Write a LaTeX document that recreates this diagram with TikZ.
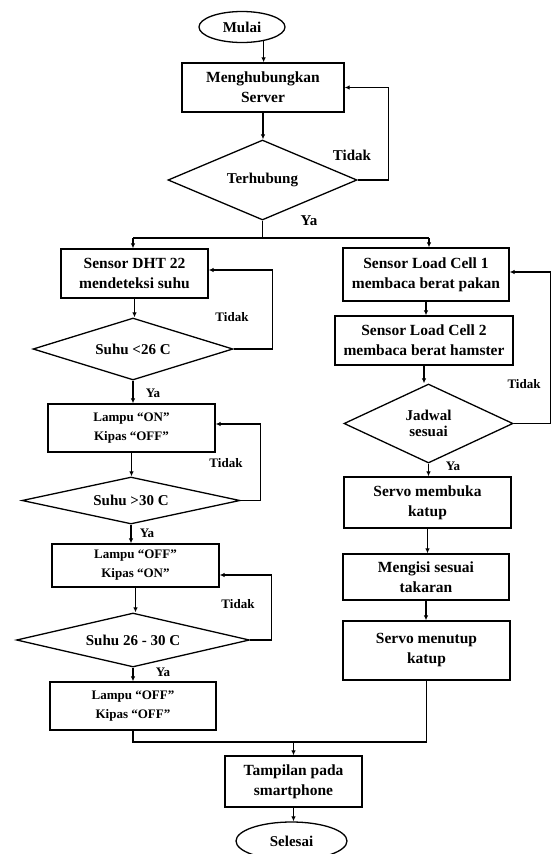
\documentclass[tikz,border=0pt]{standalone}
\usepackage{fontspec}
\setmainfont{Liberation Serif}
\usetikzlibrary{shapes.geometric,arrows.meta}
\tikzset{
  base/.style={draw, line width=1.3pt, inner sep=0pt, align=center, text=black},
  procbox/.style={base, rectangle, font=\fontsize{15.5}{20}\selectfont\bfseries},
  smallbox/.style={base, rectangle, font=\fontsize{13}{19}\selectfont\bfseries},
  decision/.style={base, diamond, aspect=3, font=\fontsize{15}{16}\selectfont\bfseries},
  terminal/.style={base, ellipse, font=\fontsize{15}{17}\selectfont\bfseries},
  lbl/.style={inner sep=0pt, font=\fontsize{15}{17}\selectfont\bfseries},
  slbl/.style={inner sep=0pt, font=\fontsize{13}{15}\selectfont\bfseries},
  conn/.style={line width=1.3pt},
  arr/.style={line width=1.3pt, -{Latex[length=5pt,width=4.5pt]}},
}
\begin{document}
\begin{tikzpicture}[x=1pt,y=-1pt]
\useasboundingbox[fill=white] (0,0) rectangle (551,854);
\clip (0,0) rectangle (551,854);
% top part
\node[terminal, minimum width=86pt, minimum height=31pt] (mulai) at (242,27) {Mulai};
\node[procbox, minimum width=162pt, minimum height=49pt] (server) at (263,87.5) {Menghubungkan\\Server};
\node[decision, minimum width=189pt, minimum height=80pt] (terhub) at (262.5,180) {Terhubung};
\node[lbl] (tidak0) at (352,155) {Tidak};
\node[lbl] (ya0) at (309,221) {Ya};
\coordinate (jl) at (133,238);
\coordinate (jr) at (429,238);
% left branch
\node[procbox, minimum width=147pt, minimum height=49pt] (dht) at (134.5,273.5) {Sensor DHT 22\\mendeteksi suhu};
\node[decision, minimum width=200pt, minimum height=62pt] (suhu1) at (133,349) {Suhu <26 C};
\node[smallbox, minimum width=167pt, minimum height=48pt] (lamp1) at (131.5,428) {Lampu “ON”\\Kipas “OFF”};
\node[decision, minimum width=218pt, minimum height=47pt] (suhu2) at (131,500.5) {Suhu >30 C};
\node[smallbox, minimum width=167pt, minimum height=43pt] (lamp2) at (135.5,565.5) {Lampu “OFF”\\Kipas “ON”};
\node[decision, minimum width=233pt, minimum height=54pt] (suhu3) at (133,640) {Suhu 26 - 30 C};
\node[smallbox, minimum width=166pt, minimum height=48pt] (lamp3) at (133,706) {Lampu “OFF”\\Kipas “OFF”};
\node[slbl] (tidak1) at (232,317) {Tidak};
\node[slbl] (ya1) at (153,393) {Ya};
\node[slbl] (tidak2) at (226,463) {Tidak};
\node[slbl] (ya2) at (147,533) {Ya};
\node[slbl] (tidak3) at (238,604) {Tidak};
\node[slbl] (ya3) at (163,672) {Ya};
% right branch
\node[procbox, minimum width=166pt, minimum height=53pt] (lc1) at (426,274.5) {Sensor Load Cell 1\\membaca berat pakan};
\node[procbox, minimum width=178pt, minimum height=49pt] (lc2) at (424,340.5) {Sensor Load Cell 2\\membaca berat hamster};
\node[decision, minimum width=169pt, minimum height=79pt] (jadwal) at (428.5,423.5) {\\[-6pt]Jadwal\\sesuai};
\node[procbox, minimum width=167pt, minimum height=51pt] (servo1) at (427.5,502.5) {Servo membuka\\katup};
\node[procbox, minimum width=166pt, minimum height=46pt] (isi) at (426,577) {Mengisi sesuai\\takaran};
\node[procbox, minimum width=167pt, minimum height=59pt] (servo2) at (426.5,650.5) {Servo menutup\\katup};
\node[slbl] (tidak4) at (524,384) {Tidak};
\node[slbl] (ya4) at (453,466) {Ya};
% bottom
\coordinate (m) at (293.5,742);
\node[procbox, minimum width=137pt, minimum height=51pt] (tamp) at (293.5,781.5) {Tampilan pada\\smartphone};
\node[terminal, minimum width=111pt, minimum height=38pt] (selesai) at (291.5,841) {Selesai};
% connectors top
\draw[arr] (mulai.-33) -- (mulai.-33 |- server.north);
\draw[arr] (server.south) -- (server.south |- terhub.north);
\draw[arr] (terhub.east) -- ++(31,0) |- (server.east);
\draw[conn] (terhub.south) -- (terhub.south |- jl);
\draw[conn] (jl) -- (jr);
\draw[arr] (jl) -- (jl |- dht.north);
\draw[arr] (jr) -- (jr |- lc1.north);
% left connectors
\draw[arr] (dht.south) -- (dht.south |- suhu1.north);
\draw[arr] (suhu1.east) -- ++(39,0) |- ([yshift=3.5pt]dht.east);
\draw[arr] (suhu1.south) -- (suhu1.south |- lamp1.north);
\draw[arr] (lamp1.south) -- (lamp1.south |- suhu2.north);
\draw[arr] (suhu2.east) -- ++(20,0) |- ([yshift=4pt]lamp1.east);
\draw[arr] (suhu2.south) -- (suhu2.south |- lamp2.north);
\draw[arr] (lamp2.south) -- (lamp2.south |- suhu3.north);
\draw[arr] (suhu3.east) -- ++(21,0) |- ([yshift=-9.5pt]lamp2.east);
\draw[arr] (suhu3.south) -- (suhu3.south |- lamp3.north);
% right connectors
\draw[arr] (lc1.south) -- (lc1.south |- lc2.north);
\draw[arr] (lc2.south) -- (lc2.south |- jadwal.north);
\draw[arr] (jadwal.east) -- ++(36.5,0) |- ([yshift=2.5pt]lc1.east);
\draw[arr] (jadwal.south) -- (jadwal.south |- servo1.north);
\draw[arr] (servo1.south) -- (servo1.south |- isi.north);
\draw[arr] (isi.south) -- (isi.south |- servo2.north);
% merge
\draw[conn] (lamp3.south) |- (servo2.south |- m) -- (servo2.south);
\draw[arr] (m) -- (m |- tamp.north);
\draw[arr] (tamp.south) -- (tamp.south |- selesai.north);
\end{tikzpicture}
\end{document}
